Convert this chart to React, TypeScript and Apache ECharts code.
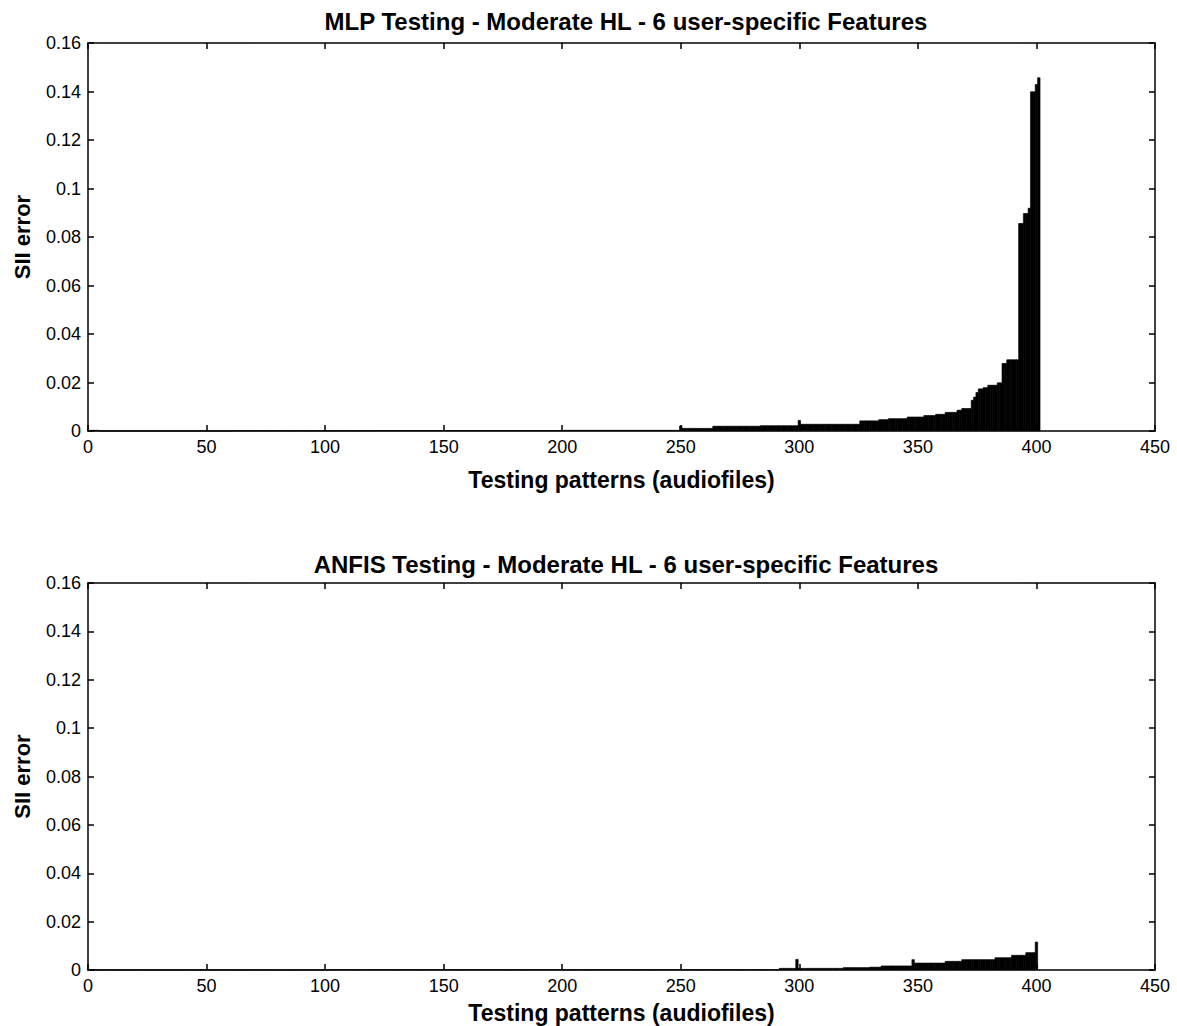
import React, { useEffect, useRef } from "react";
import * as echarts from "echarts";

// Step runs: [first pattern, last pattern, SII error]
const mlpSteps: [number, number, number][] = [
  [1, 4, 0.0004],
  [5, 60, 0.0001],
  [61, 120, 0.0002],
  [121, 200, 0.0003],
  [201, 249, 0.0004],
  [250, 250, 0.0022],
  [251, 263, 0.0012],
  [264, 283, 0.0021],
  [284, 299, 0.0023],
  [300, 300, 0.0045],
  [301, 325, 0.0029],
  [326, 333, 0.0043],
  [334, 337, 0.0048],
  [338, 345, 0.0052],
  [346, 352, 0.0059],
  [353, 357, 0.0065],
  [358, 361, 0.007],
  [362, 366, 0.0078],
  [367, 368, 0.0087],
  [369, 372, 0.0094],
  [373, 373, 0.0128],
  [374, 374, 0.0141],
  [375, 375, 0.016],
  [376, 377, 0.0175],
  [378, 379, 0.018],
  [380, 383, 0.019],
  [384, 385, 0.02],
  [386, 387, 0.028],
  [388, 392, 0.0295],
  [393, 394, 0.0857],
  [395, 396, 0.0898],
  [397, 397, 0.092],
  [398, 399, 0.14],
  [400, 400, 0.143],
  [401, 401, 0.1458],
];

const anfisSteps: [number, number, number][] = [
  [1, 100, 0.0001],
  [101, 291, 0.0002],
  [292, 298, 0.0008],
  [299, 299, 0.0045],
  [300, 318, 0.0008],
  [319, 329, 0.0011],
  [330, 334, 0.0013],
  [335, 347, 0.0018],
  [348, 348, 0.0044],
  [349, 361, 0.003],
  [362, 368, 0.0037],
  [369, 382, 0.0044],
  [383, 389, 0.0052],
  [390, 395, 0.0062],
  [396, 399, 0.0073],
  [400, 400, 0.0117],
];

const titles = [
  "MLP Testing - Moderate HL - 6 user-specific Features",
  "ANFIS Testing - Moderate HL - 6 user-specific Features",
];
const xName = "Testing patterns (audiofiles)";
const yName = "SII error";
const xRange = [0, 450, 50];
const yRange = [0, 0.16, 0.02];

function expand(steps: [number, number, number][]) {
  const out: [number, number][] = [];
  for (const [a, b, v] of steps) {
    for (let i = a; i <= b; i++) out.push([i, v]);
  }
  return out;
}

const FONT = "'Liberation Sans', Arial, Helvetica, sans-serif";

export default function App() {
  const ref = useRef<HTMLDivElement>(null);
  useEffect(() => {
    document.body.style.margin = "0";
    if (!ref.current) return;
    const chart = echarts.init(ref.current, undefined, { renderer: "svg" });
    const grids = [
      { left: 88, right: 22, top: 43, height: 388 },
      { left: 88, right: 22, top: 583, height: 387 },
    ];
    const xNameGaps = [37, 31];
    const line = { show: true, onZero: false, lineStyle: { color: "#000", width: 1.5 } };
    const tick = { show: true, inside: true, length: 6, lineStyle: { color: "#000", width: 1.5 } };
    const label = { color: "#000", fontSize: 18, fontFamily: FONT };
    const nameStyle = { color: "#000", fontWeight: "bold", fontFamily: FONT };
    const xAxis: any[] = [];
    const yAxis: any[] = [];
    grids.forEach((_, gi) => {
      xAxis.push({
        gridIndex: gi,
        type: "value",
        min: xRange[0],
        max: xRange[1],
        interval: xRange[2],
        position: "bottom",
        axisLine: line,
        axisTick: tick,
        splitLine: { show: false },
        axisLabel: { ...label, margin: 7 },
        name: xName,
        nameLocation: "middle",
        nameGap: xNameGaps[gi],
        nameTextStyle: { ...nameStyle, fontSize: 23 },
      });
      xAxis.push({
        gridIndex: gi,
        type: "value",
        min: xRange[0],
        max: xRange[1],
        interval: xRange[2],
        position: "top",
        axisLine: line,
        axisTick: tick,
        splitLine: { show: false },
        axisLabel: { show: false },
      });
      yAxis.push({
        gridIndex: gi,
        type: "value",
        min: yRange[0],
        max: yRange[1],
        interval: yRange[2],
        position: "left",
        axisLine: line,
        axisTick: tick,
        splitLine: { show: false },
        axisLabel: { ...label, margin: 7 },
        name: yName,
        nameLocation: "middle",
        nameGap: 55,
        nameTextStyle: { ...nameStyle, fontSize: 22 },
      });
      yAxis.push({
        gridIndex: gi,
        type: "value",
        min: yRange[0],
        max: yRange[1],
        interval: yRange[2],
        position: "right",
        axisLine: line,
        axisTick: tick,
        splitLine: { show: false },
        axisLabel: { show: false },
      });
    });
    const datasets = [expand(mlpSteps), expand(anfisSteps)];
    chart.setOption({
      animation: false,
      backgroundColor: "#fff",
      title: titles.map((t, i) => ({
        text: t,
        left: 621,
        textAlign: "center",
        top: i === 0 ? 4 : 547,
        textStyle: { ...nameStyle, fontSize: 24 },
      })),
      grid: grids,
      xAxis,
      yAxis,
      series: datasets.map((d, i) => ({
        type: "bar",
        xAxisIndex: i * 2,
        yAxisIndex: i * 2,
        data: d,
        barWidth: "130%",
        barCategoryGap: 0,
        itemStyle: { color: "#000", borderColor: "#000", borderWidth: 0.6 },
      })),
    });
    return () => chart.dispose();
  }, []);
  return <div ref={ref} style={{ width: 1177, height: 1026 }} />;
}
